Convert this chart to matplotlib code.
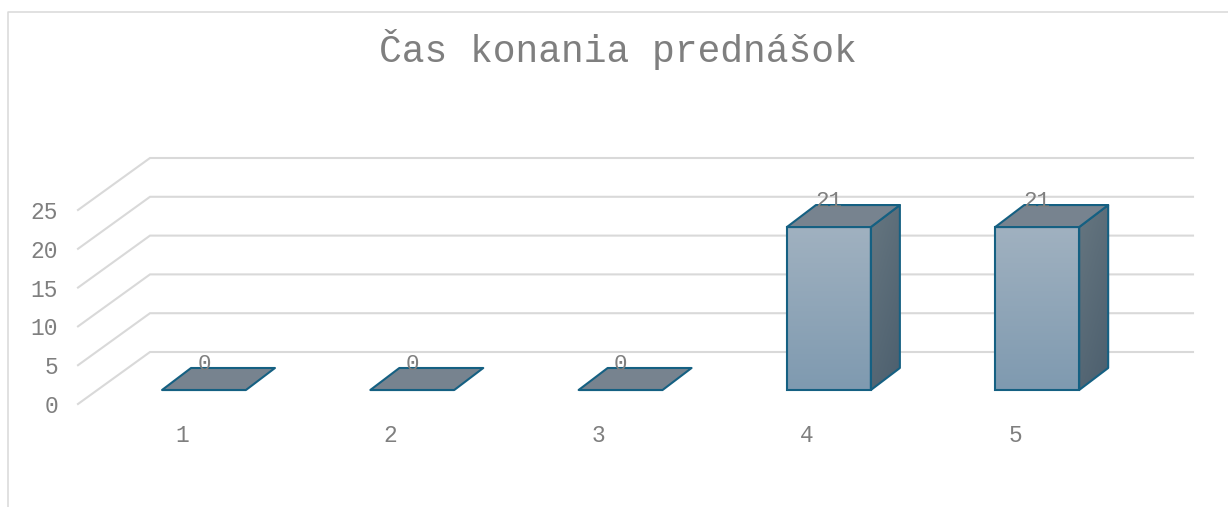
# -*- coding: utf-8 -*-

import numpy as np
import matplotlib
matplotlib.use('Agg')
import matplotlib.pyplot as plt
from matplotlib.lines import Line2D
from matplotlib.patches import Polygon
from matplotlib.transforms import Affine2D

categories = [1, 2, 3, 4, 5]
values = [0, 0, 0, 21, 21]
y_ticks = [0, 5, 10, 15, 20, 25]
title = 'Čas konania prednášok'

W, H = 1228, 507
px_cat = 208.3
px_val = 7.76
bar_width = 0.403
edge = '#156082'
grid = '#d9d9d9'
text_col = '#7f7f7f'
mono = 'Liberation Mono'

fig = plt.figure(figsize=(W / 100, H / 100), dpi=100)
ax = fig.add_axes([0, 0, 1, 1])
ax.set_xlim(1 - 204 / px_cat, 1 + (W - 204) / px_cat)
ax.set_ylim(-(H - 390) / px_val, 390 / px_val)
ax.axis('off')
xlim, ylim = ax.get_xlim(), ax.get_ylim()


def shifted(dx, dy):
    # same data scale, moved in pixels for the fake depth
    return ax.transData + Affine2D().translate(dx, dy)


# chart border
fig.add_artist(Line2D([7.5, 7.5, W], [0, H - 11.5, H - 11.5], transform=None, color=grid, lw=1.1))

# gridlines, floor side then back wall
x_left = 1 + (78 - 204) / px_cat
x_right = 1 + (1193 - 150 + 78 - 204) / px_cat
for v in y_ticks:
    ax.plot([x_left, x_left], [v, v], alpha=0)
    front = shifted(0, -14).transform((x_left, v))
    back = shifted(72, 38).transform((x_left, v))
    end = shifted(72, 38).transform((x_right, v))
    ax.add_line(Line2D([front[0], back[0], end[0]], [front[1], back[1], end[1]], transform=None,
                       color=grid, lw=1.5, zorder=1, solid_joinstyle='miter'))
    ax.text(58 / px_cat + xlim[0], v, str(v), transform=shifted(0, -14), ha='right', va='center_baseline',
            family=mono, fontsize=16.5, color=text_col)

# bars
depth_x, depth_y = 29, 22
front_grad = np.linspace(0, 1, 64).reshape(-1, 1)
front_cmap = matplotlib.colors.LinearSegmentedColormap.from_list('f', ['#a0b1c0', '#7f9ab0'])
side_grad = np.add.outer(np.linspace(0, 1, 64), np.linspace(0, 0.5, 32)) / 1.5
side_cmap = matplotlib.colors.LinearSegmentedColormap.from_list('s', ['#667680', '#4c5f6e'])

for c, v in zip(categories, values):
    x0, x1 = c - bar_width / 2, c + bar_width / 2
    dx = depth_x / px_cat
    dy = depth_y / px_val
    if v > 0:
        im = ax.imshow(front_grad, extent=(x0, x1, 0, v), aspect='auto', cmap=front_cmap, zorder=3)
        side = Polygon([(x1, 0), (x1 + dx, dy), (x1 + dx, v + dy), (x1, v)], closed=True,
                       facecolor='none', edgecolor=edge, lw=1.5, joinstyle='round', zorder=4)
        ax.add_patch(side)
        im2 = ax.imshow(side_grad, extent=(x1, x1 + dx, 0, v + dy), aspect='auto', cmap=side_cmap, zorder=3)
        im2.set_clip_path(side)
    ax.bar(c, v, width=bar_width, facecolor='none', edgecolor=edge, lw=1.5, zorder=5)
    top = Polygon([(x0, v), (x1, v), (x1 + dx, v + dy), (x0 + dx, v + dy)], closed=True,
                  facecolor='#77838f', edgecolor=edge, lw=1.5, joinstyle='round', zorder=5)
    ax.add_patch(top)
    ax.text(c, v, str(v), transform=shifted(0, 20), ha='center', va='baseline',
            family=mono, fontsize=16.2, color=text_col, zorder=6)
    ax.text(c, 0, str(c), transform=shifted(-22, -43), ha='center', va='center_baseline',
            family=mono, fontsize=16.5, color=text_col)

ax.set_xlim(xlim)
ax.set_ylim(ylim)

fig.text(618 / W, 1 - 49 / H, title, ha='center', va='center', family=mono, fontsize=27.4, color=text_col)

fig.savefig('out.png', dpi=100)
